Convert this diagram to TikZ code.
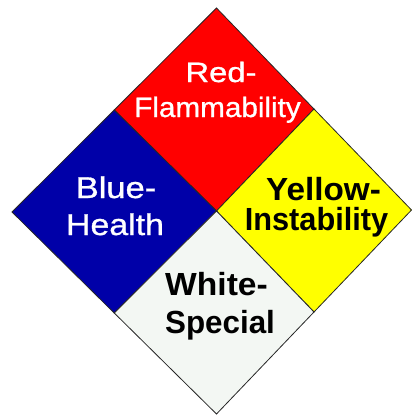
\documentclass[tikz,border=0pt]{standalone}
\usepackage{fontspec}
\setmainfont{Liberation Sans}
\newfontfamily\heavyish[FakeBold=0.9]{Liberation Sans}
\usepackage{tikz}
\definecolor{nfpared}{RGB}{255,0,0}
\definecolor{nfpablue}{RGB}{0,0,168}
\definecolor{nfpayellow}{RGB}{255,255,0}
\definecolor{nfpawhite}{RGB}{243,247,243}
\tikzset{
  quad/.style={draw=black!85, line width=0.8pt, line join=miter, fill=#1},
  lightlbl/.style={anchor=base, inner sep=0pt, text=white,
                   font=\heavyish\fontsize{28}{30}\selectfont},
  bluelbl/.style={anchor=base, inner sep=0pt, text=white,
                  font=\heavyish\fontsize{30}{32}\selectfont},
  darklbl/.style={anchor=base, inner sep=0pt, text=black,
                  font=\fontsize{32}{34}\selectfont\bfseries},
}
\begin{document}
\begin{tikzpicture}[x=1pt,y=-1pt]
  \useasboundingbox (0,0) rectangle (412,415);
  \fill[white] (0,0) rectangle (412,415);

  % diamond corners, centre and edge midpoints
  \coordinate (T) at (216.5,8);
  \coordinate (L) at (12,212);
  \coordinate (B) at (216.5,414);
  \coordinate (R) at (411.5,210);
  \coordinate (C) at (216.5,211);
  \coordinate (TL) at (114.25,110);
  \coordinate (TR) at (314,109);
  \coordinate (BR) at (314,312);
  \coordinate (BL) at (114.25,313);

  % the four quadrants
  \filldraw[quad=nfpared]    (T) -- (TR) -- (C) -- (TL) -- cycle;
  \filldraw[quad=nfpablue]   (L) -- (TL) -- (C) -- (BL) -- cycle;
  \filldraw[quad=nfpayellow] (R) -- (BR) -- (C) -- (TR) -- cycle;
  \filldraw[quad=nfpawhite]  (B) -- (BL) -- (C) -- (BR) -- cycle;

  % labels
  \node[lightlbl, xscale=1.17] (red1) at (221,82) {Red-};
  \node[lightlbl, xscale=1.06] (red2) at (217.5,117) {Flammability};
  \node[bluelbl, xscale=1.15] (blue1) at (116,198) {Blue-};
  \node[bluelbl, xscale=1.13] (blue2) at (115,235) {Health};
  \node[darklbl, xscale=1.04] (yellow1) at (323.5,200) {Yellow-};
  \node[darklbl, xscale=0.96] (yellow2) at (316.5,230) {Instability};
  \node[darklbl, xscale=1.05] (white1) at (216.5,295) {White-};
  \node[darklbl, xscale=0.98] (white2) at (220,333) {Special};
\end{tikzpicture}
\end{document}
